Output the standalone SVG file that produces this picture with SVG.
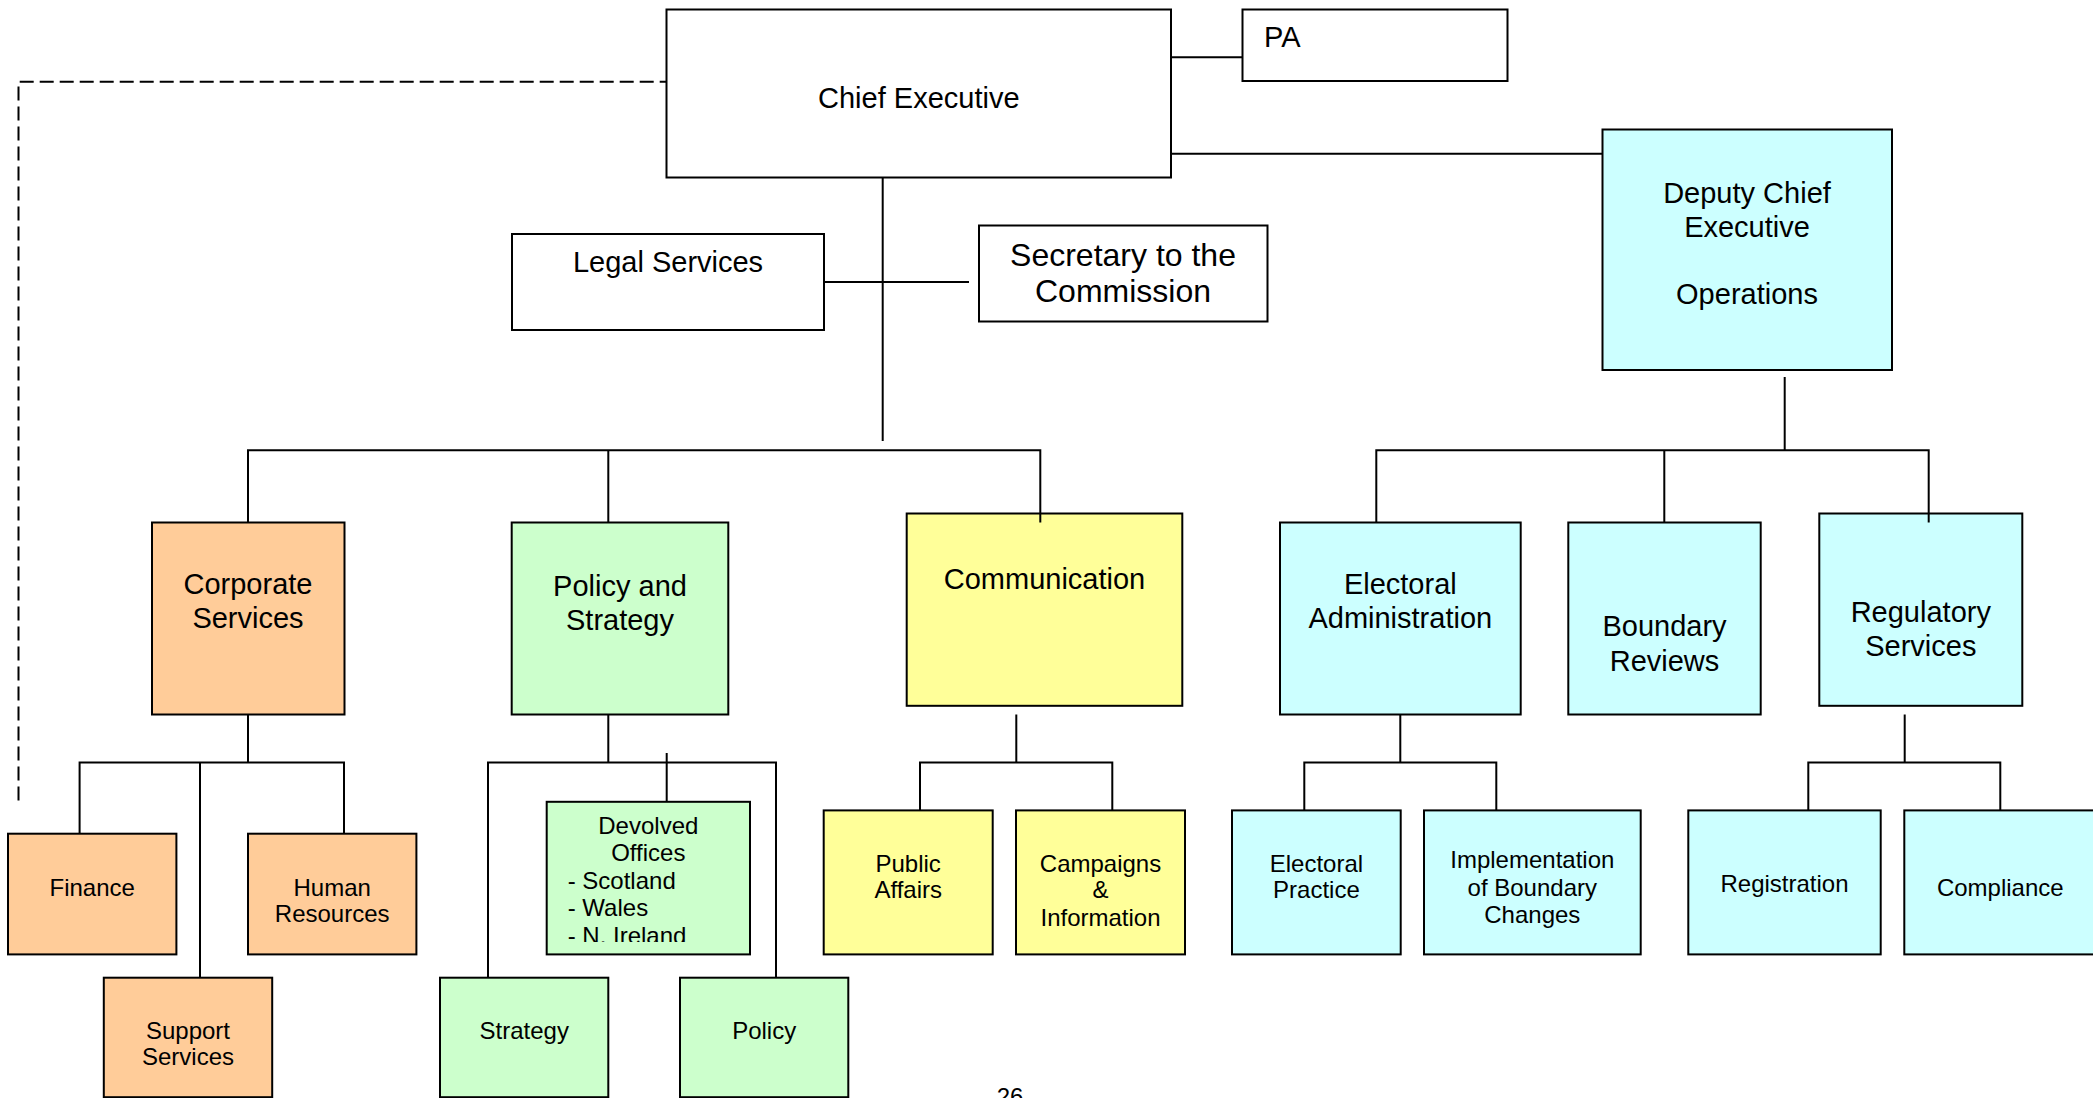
<svg xmlns="http://www.w3.org/2000/svg" width="2093" height="1098" viewBox="0 0 2093 1098">
  <style>
    .box { stroke: #000; stroke-width: 2; }
    .plain { fill: #fff; }
    .orange { fill: #FFCC99; }
    .green { fill: #CCFFCC; }
    .yellow { fill: #FFFF99; }
    .cyan { fill: #CCFFFF; }
    text { font-family: "Liberation Sans", Arial, sans-serif; fill: #000; }
    .big { font-size: 29px; text-anchor: middle; }
    .sec { font-size: 32px; text-anchor: middle; }
    .small { font-size: 24px; text-anchor: middle; }
    .left { text-anchor: start; }
    .link { fill: none; stroke: #000; stroke-width: 2; }
    .dash { fill: none; stroke: #000; stroke-width: 2; stroke-dasharray: 14 6; }
  </style>
  <defs>
    <clipPath id="devolvedClip">
      <rect x="546" y="801" width="205" height="141"/>
    </clipPath>
  </defs>
  <rect width="2093" height="1098" fill="#fff"/>

  <!-- top level -->
  <g id="chief-executive">
    <rect class="box plain" x="666.5" y="9.5" width="504.5" height="168"/>
    <text class="big" x="918.8" y="108">Chief Executive</text>
  </g>
  <g id="pa">
    <rect class="box plain" x="1242.5" y="9.5" width="265" height="71.5"/>
    <text class="big left" x="1264" y="47">PA</text>
  </g>
  <g id="legal-services">
    <rect class="box plain" x="512" y="234" width="312" height="96"/>
    <text class="big" x="668" y="272">Legal Services</text>
  </g>
  <g id="secretary">
    <rect class="box plain" x="979" y="225.5" width="288.5" height="96"/>
    <text class="sec" x="1123" y="266">Secretary to the</text>
    <text class="sec" x="1123" y="302">Commission</text>
  </g>
  <g id="deputy-chief-executive">
    <rect class="box cyan" x="1602.5" y="129.5" width="289.5" height="240.5"/>
    <text class="big" x="1747" y="203">Deputy Chief</text>
    <text class="big" x="1747" y="237">Executive</text>
    <text class="big" x="1747" y="304">Operations</text>
  </g>

  <!-- directorates -->
  <g id="corporate-services">
    <rect class="box orange" x="152" y="522.5" width="192.5" height="192"/>
    <text class="big" x="248" y="594">Corporate</text>
    <text class="big" x="248" y="628">Services</text>
  </g>
  <g id="policy-strategy">
    <rect class="box green" x="511.7" y="522.5" width="216.6" height="192"/>
    <text class="big" x="620" y="596">Policy and</text>
    <text class="big" x="620" y="630">Strategy</text>
  </g>
  <g id="communication">
    <rect class="box yellow" x="906.7" y="513.5" width="275.6" height="192.3"/>
    <text class="big" x="1044.5" y="589">Communication</text>
  </g>
  <g id="electoral-administration">
    <rect class="box cyan" x="1280" y="522.5" width="240.7" height="192"/>
    <text class="big" x="1400.3" y="594">Electoral</text>
    <text class="big" x="1400.3" y="628">Administration</text>
  </g>
  <g id="boundary-reviews">
    <rect class="box cyan" x="1568.3" y="522.5" width="192.4" height="192"/>
    <text class="big" x="1664.5" y="636">Boundary</text>
    <text class="big" x="1664.5" y="670.5">Reviews</text>
  </g>
  <g id="regulatory-services">
    <rect class="box cyan" x="1819.3" y="513.5" width="203" height="192.3"/>
    <text class="big" x="1920.8" y="622">Regulatory</text>
    <text class="big" x="1920.8" y="656">Services</text>
  </g>

  <!-- teams -->
  <g id="finance">
    <rect class="box orange" x="8" y="833.7" width="168.4" height="120.7"/>
    <text class="small" x="92.2" y="895.6">Finance</text>
  </g>
  <g id="human-resources">
    <rect class="box orange" x="248" y="833.7" width="168.4" height="120.7"/>
    <text class="small" x="332.2" y="895.6">Human</text>
    <text class="small" x="332.2" y="921.5">Resources</text>
  </g>
  <g id="support-services">
    <rect class="box orange" x="103.8" y="977.7" width="168.4" height="119.5"/>
    <text class="small" x="188" y="1039">Support</text>
    <text class="small" x="188" y="1065">Services</text>
  </g>
  <g id="devolved-offices">
    <rect class="box green" x="546.7" y="801.8" width="203.3" height="152.6"/>
    <g clip-path="url(#devolvedClip)">
      <text class="small" x="648.3" y="834">Devolved</text>
      <text class="small" x="648.3" y="861">Offices</text>
      <text class="small left" x="567.7" y="889">- Scotland</text>
      <text class="small left" x="567.7" y="916">- Wales</text>
      <text class="small left" x="567.7" y="944">- N. Ireland</text>
    </g>
  </g>
  <g id="strategy">
    <rect class="box green" x="440" y="977.7" width="168.3" height="119.5"/>
    <text class="small" x="524.2" y="1039">Strategy</text>
  </g>
  <g id="policy">
    <rect class="box green" x="680" y="977.7" width="168.3" height="119.5"/>
    <text class="small" x="764.2" y="1039">Policy</text>
  </g>
  <g id="public-affairs">
    <rect class="box yellow" x="823.7" y="810.4" width="169" height="144"/>
    <text class="small" x="908.2" y="872">Public</text>
    <text class="small" x="908.2" y="898">Affairs</text>
  </g>
  <g id="campaigns-information">
    <rect class="box yellow" x="1016" y="810.4" width="169" height="144"/>
    <text class="small" x="1100.5" y="872">Campaigns</text>
    <text class="small" x="1100.5" y="898">&amp;</text>
    <text class="small" x="1100.5" y="926">Information</text>
  </g>
  <g id="electoral-practice">
    <rect class="box cyan" x="1232" y="810.4" width="168.7" height="144"/>
    <text class="small" x="1316.4" y="872">Electoral</text>
    <text class="small" x="1316.4" y="898">Practice</text>
  </g>
  <g id="boundary-changes">
    <rect class="box cyan" x="1424" y="810.4" width="216.7" height="144"/>
    <text class="small" x="1532.3" y="868.3">Implementation</text>
    <text class="small" x="1532.3" y="895.6">of Boundary</text>
    <text class="small" x="1532.3" y="922.8">Changes</text>
  </g>
  <g id="registration">
    <rect class="box cyan" x="1688.3" y="810.4" width="192.4" height="144"/>
    <text class="small" x="1784.5" y="892">Registration</text>
  </g>
  <g id="compliance">
    <rect class="box cyan" x="1904.3" y="810.4" width="192" height="144"/>
    <text class="small" x="2000.3" y="895.6">Compliance</text>
  </g>

  <!-- connectors -->
  <g id="connectors">
    <path class="dash" d="M18.5,800.5 V81.7 H666.5"/>
    <path class="link" d="M1171,57.3 H1242.5"/>
    <path class="link" d="M1171,153.7 H1602.5"/>
    <path class="link" d="M882.7,177.7 V441"/>
    <path class="link" d="M824,282 H969"/>
    <path class="link" d="M248,522.5 V450.3 H1040.3 V522.5 M608.3,450.3 V522.5"/>
    <path class="link" d="M1784.7,377 V450.3"/>
    <path class="link" d="M1376.3,522.5 V450.3 H1928.7 V522.5 M1664.3,450.3 V522.5"/>
    <path class="link" d="M248,714.4 V762.4 M79.6,833.7 V762.4 H344 V833.7 M200,762.4 V977.7"/>
    <path class="link" d="M608.3,714.4 V762.4 M488,977.7 V762.4 H776 V977.7 M666.7,753 V801.8"/>
    <path class="link" d="M1016.3,714.4 V762.4 M920,810.4 V762.4 H1112.3 V810.4"/>
    <path class="link" d="M1400.3,714.4 V762.4 M1304.3,810.4 V762.4 H1496.3 V810.4"/>
    <path class="link" d="M1904.7,714.4 V762.4 M1808.3,810.4 V762.4 H2000.3 V810.4"/>
  </g>

  <!-- page number -->
  <text class="small" x="1010" y="1105">26</text>
</svg>
